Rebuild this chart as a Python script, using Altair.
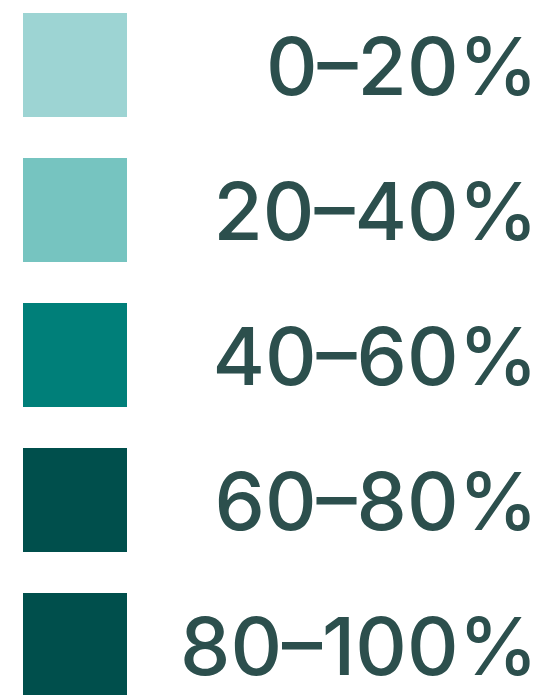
import altair as alt
import pandas as pd

labels = ["0–20%", "20–40%", "40–60%", "60–80%", "80–100%"]
colors = ["#9dd4d3", "#76c4c0", "#007f79", "#004f4c", "#004f4c"]
order = [0, 1, 2, 3, 4]

df = pd.DataFrame({"label": labels, "color": colors, "idx": order})

yscale = alt.Scale(domain=[0, 4], range=[57, 637])

base = alt.Chart(df)

squares = base.mark_square(size=104 * 104, opacity=1).encode(
    x=alt.value(67),
    y=alt.Y("idx:Q", scale=yscale, axis=None),
    color=alt.Color("color:N", scale=None, legend=None),
)

texts = base.mark_text(
    align="right", baseline="middle", fontSize=80, font="Inter", fontWeight=500,
    color="#2c4f4d", dy=6
).encode(
    x=alt.value(530),
    y=alt.Y("idx:Q", scale=yscale, axis=None),
    text="label:N",
)

chart = (squares + texts).properties(
    width=534, height=687, padding=0, autosize=alt.AutoSizeParams(type="none")
).configure_view(stroke=None)

chart.save("out.html", embed_options={"renderer": "svg", "actions": False})
